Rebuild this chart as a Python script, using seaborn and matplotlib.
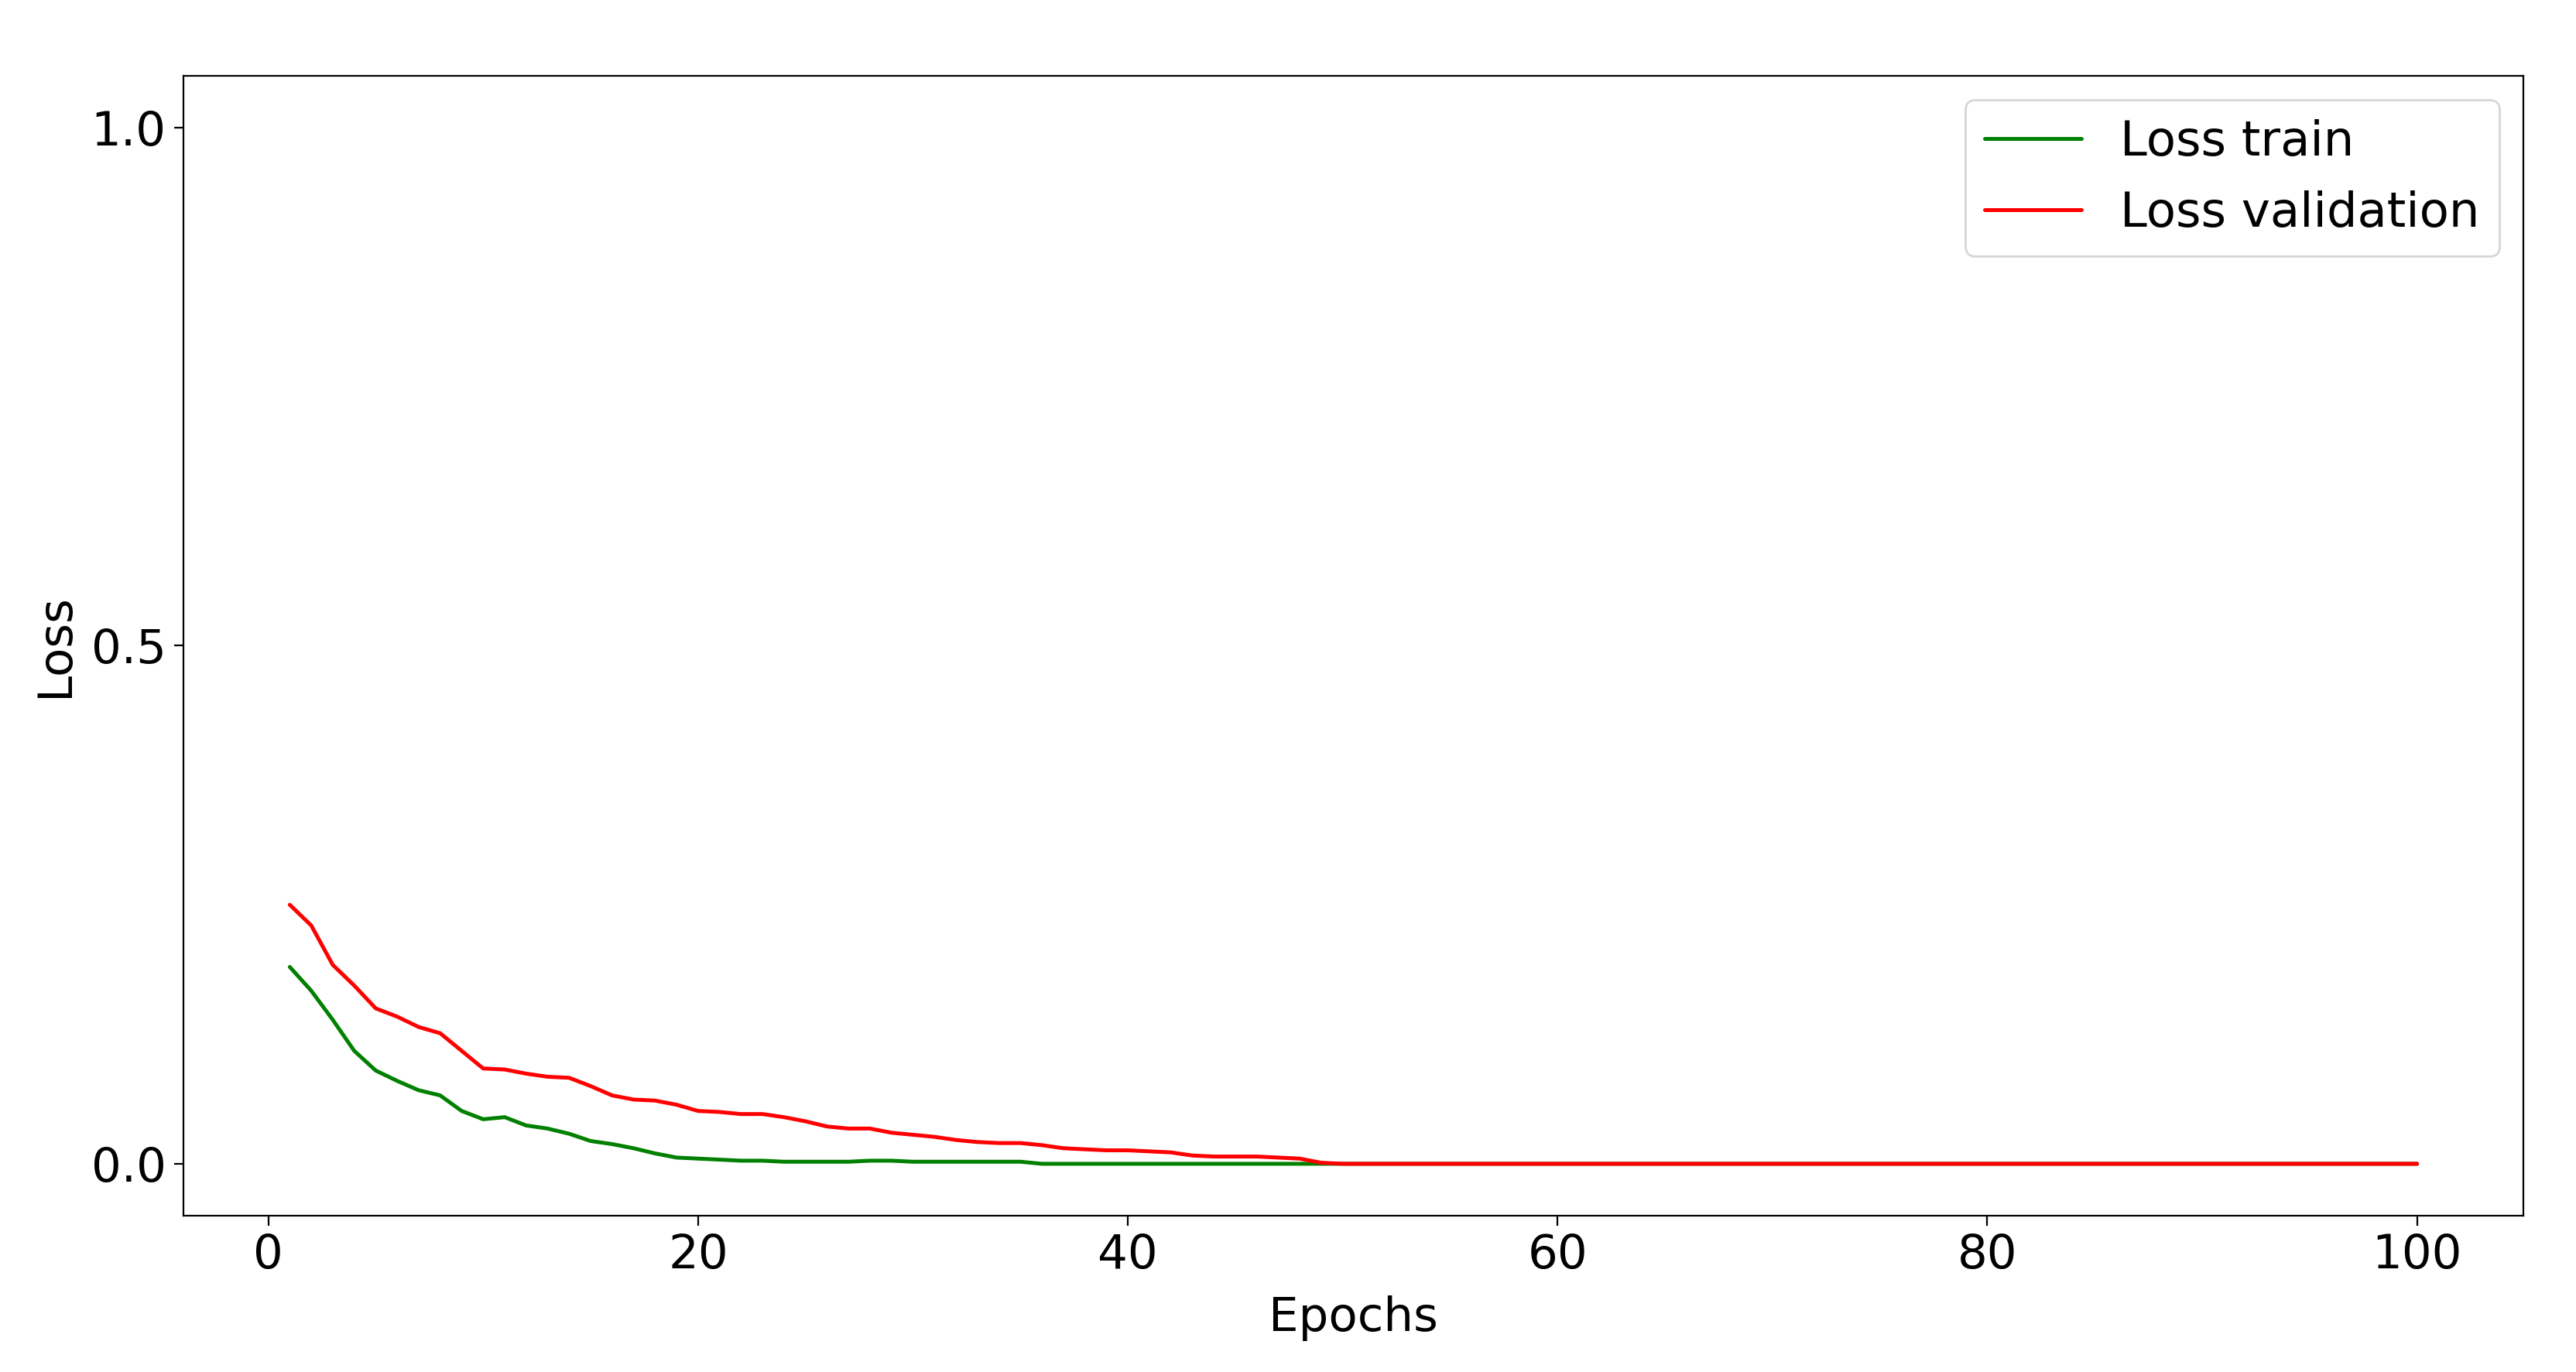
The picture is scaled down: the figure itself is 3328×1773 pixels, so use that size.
import numpy as np
import pandas as pd
import matplotlib
matplotlib.use("Agg")
import matplotlib.pyplot as plt
import seaborn as sns

epochs = list(range(1, 101))

loss_train = [
    0.190, 0.167, 0.139, 0.109, 0.090, 0.080, 0.071, 0.066, 0.051, 0.043,
    0.045, 0.037, 0.034, 0.029, 0.022, 0.019, 0.015, 0.010, 0.006, 0.005,
    0.004, 0.003, 0.003, 0.002, 0.002, 0.002, 0.002, 0.003, 0.003, 0.002,
    0.002, 0.002, 0.002, 0.002, 0.002, 0.000, 0.000, 0.000, 0.000, 0.000,
    0.000, 0.000, 0.000, 0.000, 0.000, 0.000, 0.000, 0.000, 0.000, 0.000,
    0.000, 0.000, 0.000, 0.000, 0.000, 0.000, 0.000, 0.000, 0.000, 0.000,
    0.000, 0.000, 0.000, 0.000, 0.000, 0.000, 0.000, 0.000, 0.000, 0.000,
    0.000, 0.000, 0.000, 0.000, 0.000, 0.000, 0.000, 0.000, 0.000, 0.000,
    0.000, 0.000, 0.000, 0.000, 0.000, 0.000, 0.000, 0.000, 0.000, 0.000,
    0.000, 0.000, 0.000, 0.000, 0.000, 0.000, 0.000, 0.000, 0.000, 0.000,
]

loss_val = [
    0.250, 0.230, 0.192, 0.172, 0.150, 0.142, 0.132, 0.126, 0.109, 0.092,
    0.091, 0.087, 0.084, 0.083, 0.075, 0.066, 0.062, 0.061, 0.057, 0.051,
    0.050, 0.048, 0.048, 0.045, 0.041, 0.036, 0.034, 0.034, 0.030, 0.028,
    0.026, 0.023, 0.021, 0.020, 0.020, 0.018, 0.015, 0.014, 0.013, 0.013,
    0.012, 0.011, 0.008, 0.007, 0.007, 0.007, 0.006, 0.005, 0.001, 0.000,
    0.000, 0.000, 0.000, 0.000, 0.000, 0.000, 0.000, 0.000, 0.000, 0.000,
    0.000, 0.000, 0.000, 0.000, 0.000, 0.000, 0.000, 0.000, 0.000, 0.000,
    0.000, 0.000, 0.000, 0.000, 0.000, 0.000, 0.000, 0.000, 0.000, 0.000,
    0.000, 0.000, 0.000, 0.000, 0.000, 0.000, 0.000, 0.000, 0.000, 0.000,
    0.000, 0.000, 0.000, 0.000, 0.000, 0.000, 0.000, 0.000, 0.000, 0.000,
]

series_names = ["Loss train", "Loss validation"]
series_colors = ["green", "red"]

df = pd.DataFrame({
    "Epochs": epochs * 2,
    "Loss": loss_train + loss_val,
    "series": [series_names[0]] * len(epochs) + [series_names[1]] * len(epochs),
})

sns.set_style("ticks")
plt.rcParams["font.family"] = ["DejaVu Sans"]
plt.rcParams["axes.edgecolor"] = "black"
plt.rcParams["axes.labelcolor"] = "black"
plt.rcParams["text.color"] = "black"
plt.rcParams["axes.linewidth"] = 0.8
plt.rcParams["xtick.color"] = "black"
plt.rcParams["ytick.color"] = "black"

fig = plt.figure(figsize=(16.64, 8.865), dpi=200)
ax = fig.add_axes([0.0712, 0.114, 0.9084, 0.8307])

sns.lineplot(data=df, x="Epochs", y="Loss", hue="series",
             palette=dict(zip(series_names, series_colors)),
             linewidth=1.8, ax=ax)

ax.set_xlim(-3.95, 104.95)
ax.set_ylim(-0.05, 1.05)
ax.set_xticks([0, 20, 40, 60, 80, 100])
ax.set_yticks([0.0, 0.5, 1.0])
ax.tick_params(labelsize=22, length=4.5, width=0.8, colors="black")
ax.set_xlabel("Epochs", fontsize=22, labelpad=8)
ax.set_ylabel("Loss", fontsize=22, labelpad=6)
leg = ax.legend(loc="upper right", fontsize=22.5, title=None)
for t in leg.get_texts():
    t.set_color("black")

fig.savefig("out.png", dpi=200)
